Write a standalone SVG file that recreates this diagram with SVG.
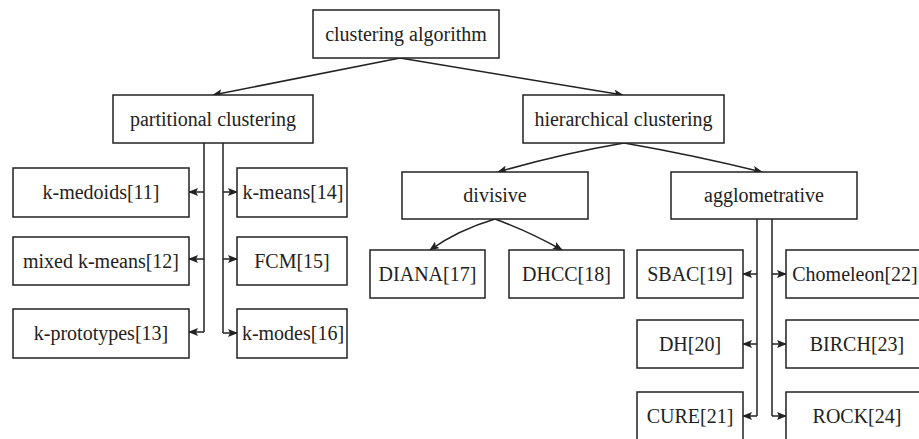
<svg xmlns="http://www.w3.org/2000/svg" width="919" height="439" viewBox="0 0 919 439">
<style>
.b{fill:#fff;stroke:#222;stroke-width:1.5}
.t{font-family:'Liberation Serif','Times New Roman',serif;font-size:20px;fill:#222;text-anchor:middle;dominant-baseline:central}
.c{fill:none;stroke:#222;stroke-width:1.5}
</style>
<defs>
<marker id="a" markerUnits="userSpaceOnUse" markerWidth="10" markerHeight="8" refX="9" refY="4" orient="auto">
<path d="M0,0 L10,4 L0,8 L2,4 z" fill="#222"/>
</marker>
</defs>
<rect width="919" height="439" fill="#fff"/>
<g id="connectors">
<path class="c" d="M400,58 L213,95" marker-end="url(#a)"/>
<path class="c" d="M400,58 L623,95" marker-end="url(#a)"/>
<path class="c" d="M624,143 Q560,154 498,172" marker-end="url(#a)"/>
<path class="c" d="M624,143 Q693,155 762,172" marker-end="url(#a)"/>
<path class="c" d="M495,219 Q458,230 430,250" marker-end="url(#a)"/>
<path class="c" d="M495,219 Q530,232 562,250" marker-end="url(#a)"/>
<path class="c" d="M204,143 V332"/>
<path class="c" d="M223,143 V333"/>
<path class="c" d="M204,192 H189" marker-end="url(#a)"/>
<path class="c" d="M204,259 H189" marker-end="url(#a)"/>
<path class="c" d="M204,332 H189" marker-end="url(#a)"/>
<path class="c" d="M223,192 H237" marker-end="url(#a)"/>
<path class="c" d="M223,259 H237" marker-end="url(#a)"/>
<path class="c" d="M223,333 H237" marker-end="url(#a)"/>
<path class="c" d="M757,219 V416"/>
<path class="c" d="M772,219 V416"/>
<path class="c" d="M757,274 H743" marker-end="url(#a)"/>
<path class="c" d="M757,344 H743" marker-end="url(#a)"/>
<path class="c" d="M757,416 H743" marker-end="url(#a)"/>
<path class="c" d="M772,274 H786" marker-end="url(#a)"/>
<path class="c" d="M772,344 H786" marker-end="url(#a)"/>
<path class="c" d="M772,416 H786" marker-end="url(#a)"/>
</g>
<g id="n-root"><rect class="b" x="313" y="10" width="186" height="48"/><text class="t" x="406" y="34">clustering algorithm</text></g>
<g id="n-part"><rect class="b" x="113" y="95" width="200" height="48"/><text class="t" x="213" y="119">partitional clustering</text></g>
<g id="n-hier"><rect class="b" x="523" y="95" width="201" height="48"/><text class="t" x="623.5" y="119">hierarchical clustering</text></g>
<g id="n-kmed"><rect class="b" x="13" y="168" width="176" height="49"/><text class="t" x="101" y="192">k-medoids[11]</text></g>
<g id="n-mixed"><rect class="b" x="13" y="237" width="176" height="48"/><text class="t" x="101" y="261">mixed k-means[12]</text></g>
<g id="n-kproto"><rect class="b" x="13" y="309" width="176" height="49"/><text class="t" x="101" y="333">k-prototypes[13]</text></g>
<g id="n-kmeans"><rect class="b" x="237" y="168" width="110" height="49"/><text class="t" x="293" y="192">k-means[14]</text></g>
<g id="n-fcm"><rect class="b" x="237" y="237" width="110" height="48"/><text class="t" x="292" y="261">FCM[15]</text></g>
<g id="n-kmodes"><rect class="b" x="237" y="309" width="110" height="49"/><text class="t" x="293" y="333">k-modes[16]</text></g>
<g id="n-div"><rect class="b" x="402" y="172" width="186" height="47"/><text class="t" x="495" y="195">divisive</text></g>
<g id="n-agg"><rect class="b" x="671" y="172" width="186" height="47"/><text class="t" x="764" y="195">agglometrative</text></g>
<g id="n-diana"><rect class="b" x="370" y="250" width="115" height="48"/><text class="t" x="427.5" y="274">DIANA[17]</text></g>
<g id="n-dhcc"><rect class="b" x="509" y="250" width="115" height="48"/><text class="t" x="566.5" y="274">DHCC[18]</text></g>
<g id="n-sbac"><rect class="b" x="637" y="250" width="106" height="48"/><text class="t" x="690" y="274">SBAC[19]</text></g>
<g id="n-dh"><rect class="b" x="637" y="320" width="106" height="48"/><text class="t" x="690" y="344">DH[20]</text></g>
<g id="n-cure"><rect class="b" x="637" y="392" width="106" height="50"/><text class="t" x="690" y="416">CURE[21]</text></g>
<g id="n-chom"><rect class="b" x="786" y="250" width="140" height="48"/><text class="t" x="855" y="274">Chomeleon[22]</text></g>
<g id="n-birch"><rect class="b" x="786" y="320" width="140" height="48"/><text class="t" x="857" y="344">BIRCH[23]</text></g>
<g id="n-rock"><rect class="b" x="786" y="392" width="140" height="50"/><text class="t" x="857" y="416">ROCK[24]</text></g>
</svg>
